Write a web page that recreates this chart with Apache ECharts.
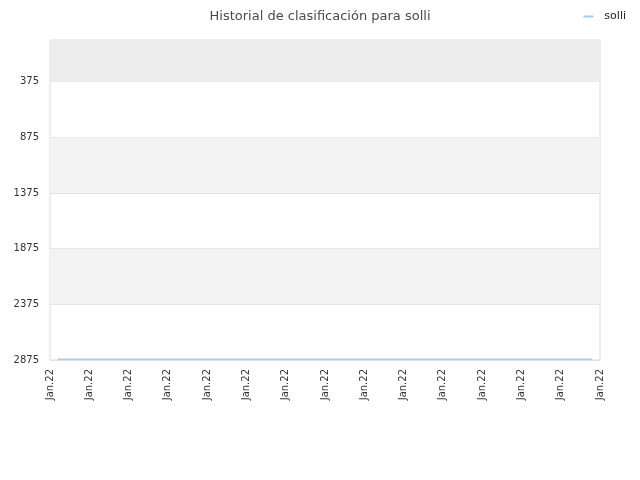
<!DOCTYPE html>
<html>
<head>
<meta charset="utf-8">
<script src="https://cdn.jsdelivr.net/npm/echarts@6/dist/echarts.min.js"></script>
<style>html,body{margin:0;padding:0;background:#fff}#c{width:640px;height:480px}</style>
</head>
<body>
<div id="c"></div>
<script>
const titleText = 'Historial de clasificación para solli';
const seriesName = 'solli';
// x positions (day index within the axis span) and ranks
const dayIndex = [0.2, 13.8];
const rankValues = [2868, 2868];
const xTickLabels = ['Jan.22','Jan.22','Jan.22','Jan.22','Jan.22','Jan.22','Jan.22','Jan.22','Jan.22','Jan.22','Jan.22','Jan.22','Jan.22','Jan.22','Jan.22'];
const yTicks = [375, 875, 1375, 1875, 2375, 2875];
const yMin = 0, yMax = 2875;

const chart = echarts.init(document.getElementById('c'), null, {renderer: 'canvas'});
const font = 'DejaVu Sans';
const bands = [
  [{yAxis: yMin, itemStyle: {color: '#ededed'}}, {yAxis: yTicks[0]}],
  [{yAxis: yTicks[1], itemStyle: {color: '#f3f3f3'}}, {yAxis: yTicks[2]}],
  [{yAxis: yTicks[3], itemStyle: {color: '#f3f3f3'}}, {yAxis: yTicks[4]}]
];
chart.setOption({
  animation: false,
  title: {text: titleText, left: 'center', top: 5,
    textStyle: {fontFamily: font, fontSize: 13, fontWeight: 'normal', color: '#4a4a4a'}},
  legend: {data: [seriesName], right: 9, top: 6, icon: 'rect', itemWidth: 10, itemHeight: 2, itemGap: 5,
    textStyle: {fontFamily: font, fontSize: 11, color: '#222', padding: [0,0,0,6]}},
  grid: {left: 50, right: 40, top: 40, bottom: 120, show: true, borderColor: '#dddddd', borderWidth: 1, containLabel: false},
  xAxis: {type: 'value', min: 0, max: xTickLabels.length - 1, interval: 1,
    axisLine: {show: false}, axisTick: {show: false}, splitLine: {show: false},
    axisLabel: {rotate: 90, fontFamily: font, fontSize: 10, color: '#333', margin: 9,
      formatter: (v) => xTickLabels[Math.round(v)] || ''}},
  yAxis: {type: 'value', inverse: true, min: yMin, max: yMax,
    axisLine: {show: false}, axisTick: {show: false, customValues: yTicks},
    axisLabel: {customValues: yTicks, fontFamily: font, fontSize: 10, color: '#333', margin: 11,
      formatter: (v) => String(v)},
    splitLine: {show: true, lineStyle: {color: '#e2e2e2', width: 1}}},
  series: [{
    name: seriesName, type: 'line', data: dayIndex.map((d, i) => [d, rankValues[i]]),
    showSymbol: false, symbol: 'none', lineStyle: {color: '#a4cbf2', width: 1.5}, itemStyle: {color: '#a4cbf2'},
    markArea: {silent: true, data: bands}
  }]
});
</script>
</body>
</html>
